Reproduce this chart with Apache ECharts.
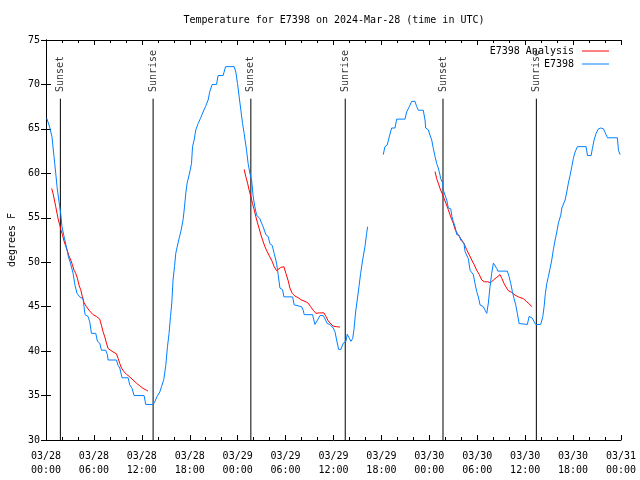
<!DOCTYPE html>
<html>
<head>
<meta charset="utf-8">
<script src="https://cdn.jsdelivr.net/npm/echarts@6/dist/echarts.min.js"></script>
<style>html,body{margin:0;padding:0;background:#fff}#c{width:640px;height:480px}</style>
</head>
<body>
<div id="c"></div>
<script>
// hours since 03/28 00:00 UTC
const blueHours = [0.09,0.46,0.75,1.0,1.22,1.38,1.63,1.84,2.0,2.26,2.56,2.81,3.06,3.38,3.63,3.88,4.22,4.64,4.76,4.89,5.26,5.48,5.69,6.23,6.44,6.73,6.94,7.48,7.69,7.77,8.82,9.02,9.24,9.52,10.28,10.49,10.78,11.03,12.28,12.49,13.41,13.62,13.91,14.25,14.46,14.75,15.0,15.21,15.41,15.59,15.75,15.91,16.09,16.25,16.42,16.67,16.92,17.17,17.34,17.51,17.67,17.92,18.22,18.35,18.55,18.76,19.05,19.35,19.67,19.97,20.3,20.51,20.8,21.35,21.55,22.18,22.48,23.56,23.77,23.98,24.19,24.4,24.61,24.81,25.11,25.31,25.53,25.74,25.94,26.15,26.37,26.57,26.78,26.99,27.19,27.53,27.82,28.03,28.32,28.57,28.87,29.07,29.29,29.62,29.79,30.88,31.08,32.0,32.21,32.33,33.38,33.67,34.01,34.3,34.71,35.01,35.21,35.55,35.76,35.96,36.18,36.39,36.64,36.93,37.22,37.56,37.72,37.97,38.18,38.4,38.56,38.77,38.97,39.19,39.4,39.65,39.94,40.15,40.28,41.2,42.23,42.44,42.73,42.98,43.28,43.7,43.91,44.95,45.16,45.49,45.79,46.2,46.42,46.62,47.24,47.46,47.54,47.87,48.08,48.3,48.5,48.71,48.92,49.12,49.34,49.42,49.67,49.75,50.0,50.18,50.38,50.68,50.84,51.0,51.22,51.43,51.75,51.93,52.18,52.34,52.47,52.68,52.88,53.1,53.31,53.51,53.72,53.93,54.14,54.35,54.56,54.76,54.98,55.19,55.39,55.6,55.81,56.02,56.23,56.44,56.57,57.77,57.98,58.2,58.4,58.61,58.82,59.02,59.24,60.28,60.49,60.7,60.9,61.12,61.33,61.95,62.21,62.37,62.53,62.71,62.91,63.12,63.33,63.53,63.75,63.96,64.16,64.46,64.59,64.79,65.0,65.21,65.41,65.63,65.84,66.04,66.25,66.54,67.63,67.8,68.26,68.42,68.63,68.88,69.17,69.47,69.8,70.01,70.3,71.55,71.68,71.89];
const blueTemps = [66.2,65.2,64.1,61.9,60.0,58.5,56.8,55.5,54.0,52.9,51.7,50.6,49.9,48.8,47.4,46.5,46.1,45.9,45.0,44.1,43.9,43.3,42.0,42.0,41.1,40.9,40.1,40.1,39.6,39.0,39.0,38.4,38.1,37.0,37.0,36.2,35.8,35.0,35.0,34.0,34.0,34.3,34.9,35.4,36.0,36.8,38.4,40.5,42.0,43.9,45.4,48.0,49.5,51.0,51.7,52.7,53.6,54.8,56.2,57.8,58.9,59.8,61.1,63.0,63.75,64.9,65.6,66.2,66.9,67.5,68.25,69.2,70.0,70.0,71.0,71.0,72.0,72.0,71.4,70.1,68.6,67.1,65.6,64.5,62.6,61.1,60.0,59.25,57.4,56.25,55.3,55.1,54.9,54.4,54.0,53.1,52.9,52.1,51.9,51.0,49.9,48.6,47.1,46.9,46.1,46.1,45.2,45.0,44.6,44.1,44.1,43.0,43.5,44.0,44.0,43.5,43.1,43.0,43.1,42.6,42.2,41.25,40.2,40.2,40.9,41.1,41.9,42.0,41.1,41.4,42.4,44.4,45.75,47.25,48.75,50.25,51.75,53.25,54.0,null,62.1,63.0,63.2,64.1,65.1,65.1,66.1,66.1,66.9,67.5,68.1,68.1,67.5,67.1,67.1,66.0,65.1,64.9,64.3,63.75,62.8,61.9,61.1,60.6,59.8,59.4,58.9,58.1,58.0,57.0,56.1,56.0,55.1,54.6,54.0,53.1,53.0,52.5,52.3,52.1,51.2,51.0,50.4,49.1,48.9,48.6,47.6,46.7,46.1,45.2,45.1,45.0,44.6,44.25,45.4,47.25,48.75,49.9,49.9,49.3,49.0,49.0,48.4,47.6,46.7,45.9,45.2,44.25,43.1,43.0,43.9,44.0,43.7,43.3,43.0,43.0,43.9,45.0,46.5,47.6,48.4,49.3,50.25,51.4,52.5,53.4,54.4,55.3,56.1,56.1,57.0,57.9,58.9,59.8,60.75,61.7,62.4,63.0,63.0,62.0,62.0,62.8,63.75,64.5,65.0,65.1,65.0,64.6,64.0,64.0,62.6,62.1];

const redHours = [0.71,0.88,1.05,1.22,1.38,1.55,1.72,1.88,2.06,2.22,2.43,2.63,2.88,3.1,3.31,3.51,3.72,3.93,4.14,4.35,4.56,4.76,5.06,5.39,5.48,5.89,6.32,6.73,6.94,7.14,7.36,7.57,7.77,7.98,8.4,8.82,9.02,9.24,9.45,9.74,10.08,10.49,10.9,11.33,11.74,12.16,12.58,12.78,
  18.0,
  24.81,25.03,25.24,25.44,25.65,25.86,26.07,26.28,26.49,26.69,26.9,27.12,27.41,27.69,28.03,28.32,28.57,28.87,29.07,29.37,29.79,30.04,30.33,30.54,30.83,31.17,31.58,32.0,32.54,32.83,33.13,33.46,33.8,34.21,34.8,35.05,35.34,35.68,35.96,36.39,36.8,
  42.0,
  48.71,48.92,49.12,49.34,49.59,49.84,50.09,50.38,50.68,51.0,51.22,51.5,51.75,52.05,52.34,52.68,53.01,53.31,53.63,53.93,54.26,54.56,54.89,55.31,55.69,56.02,56.44,56.85,57.07,57.36,57.61,57.89,58.32,58.73,59.15,59.77,60.2,60.53,60.83];
const redTemps = [58.3,57.75,57.0,56.25,55.5,54.75,54.2,53.6,53.1,52.5,51.9,51.4,50.7,50.25,49.7,49.1,48.75,48.2,47.4,46.9,46.1,45.45,45.0,44.6,44.4,44.1,43.9,43.6,42.9,42.2,41.6,40.9,40.3,40.1,39.9,39.7,39.2,38.6,38.1,37.7,37.4,37.1,36.75,36.4,36.1,35.8,35.6,35.5,
  null,
  60.45,59.6,58.9,58.1,57.4,56.6,55.9,55.1,54.4,53.8,53.1,52.5,51.75,51.2,50.6,50.1,49.5,49.05,49.2,49.4,49.5,48.75,47.9,47.1,46.5,46.2,46.0,45.75,45.55,45.4,45.0,44.6,44.25,44.3,44.3,43.9,43.4,43.05,42.8,42.75,42.7,
  null,
  60.2,59.4,58.9,58.3,57.75,57.2,56.6,55.9,55.1,54.4,53.7,53.25,52.9,52.5,52.1,51.4,50.8,50.25,49.7,49.1,48.6,48.0,47.8,47.8,47.7,48.0,48.3,48.6,48.2,47.6,47.2,46.8,46.6,46.3,46.1,45.9,45.55,45.3,45.0];

const sunsetHours = [1.80, 25.65, 49.71];
const sunriseHours = [13.41, 37.47, 61.40];
const yTicks = {min: 30, max: 75, step: 5};
const xTicks = {min: 0, max: 72, step: 6};
const titleText = 'Temperature for E7398 on 2024-Mar-28 (time in UTC)';
const blueName = 'E7398';
const redName = 'E7398 Analysis';

const FONT = 'DejaVu Sans Mono';
const zip = (a, b) => a.map((v, i) => [v, b[i] === null ? null : b[i]]);

const LINE_TOP = 68.4, LABEL_AT = 69.15;
const events = sunsetHours.map(h => ({h, name: 'Sunset'})).concat(sunriseHours.map(h => ({h, name: 'Sunrise'})));

const vlineSeries = events.map(ev => ({
  type: 'line', data: [[ev.h, yTicks.min], [ev.h, LINE_TOP]], symbol: 'none',
  lineStyle: {color: '#000', width: 1}, silent: true, z: 1
}));
const labelSeries = {
  type: 'scatter', symbolSize: 0, silent: true,
  data: events.map(ev => ({value: [ev.h, LABEL_AT], name: ev.name})),
  label: {show: true, formatter: p => p.name, rotate: 90, position: 'inside',
    align: 'left', verticalAlign: 'middle', color: '#000', fontFamily: FONT, fontSize: 10}
};

function xLabel(v) {
  const day = 28 + Math.floor(v / 24);
  const hh = v % 24;
  return '03/' + String(day).padStart(2, '0') + '\n' + String(hh).padStart(2, '0') + ':00';
}

const axisCommon = {
  axisLine: {show: true, lineStyle: {color: '#000', width: 1}},
  splitLine: {show: false}
};

const chart = echarts.init(document.getElementById('c'), null, {renderer: 'canvas'});
chart.setOption({
  animation: false,
  backgroundColor: '#fff',
  title: {text: titleText, left: 334, top: 15, textAlign: 'center', padding: 0,
    textStyle: {fontFamily: FONT, fontSize: 10, fontWeight: 'normal', color: '#000'}},
  legend: {
    data: [{name: redName, icon: 'rect', itemStyle: {color: '#ff0000'}},
           {name: blueName, icon: 'rect', itemStyle: {color: '#0080ff'}}],
    orient: 'vertical', right: 31, top: 45, align: 'right', padding: 0,
    itemWidth: 27, itemHeight: 1, itemGap: 1,
    textStyle: {fontFamily: FONT, fontSize: 10, color: '#000', padding: [0, 3, 0, 0], lineHeight: 12}
  },
  grid: {left: 46, right: 19, top: 40, bottom: 40, containLabel: false, outerBoundsMode: 'none'},
  xAxis: [
    Object.assign({type: 'value', position: 'bottom', min: xTicks.min, max: xTicks.max, interval: xTicks.step,
      axisTick: {show: true, inside: true, length: 5, lineStyle: {color: '#000'}},
      minorTick: {show: true, splitNumber: 3, length: 3, lineStyle: {color: '#000'}},
      axisLabel: {formatter: xLabel, fontFamily: FONT, fontSize: 10, color: '#000', margin: 9, lineHeight: 14}
    }, axisCommon),
    Object.assign({type: 'value', position: 'top', min: xTicks.min, max: xTicks.max, interval: xTicks.step,
      axisTick: {show: true, inside: true, length: 5, lineStyle: {color: '#000'}},
      minorTick: {show: true, splitNumber: 3, length: 3, lineStyle: {color: '#000'}},
      axisLabel: {show: false}
    }, axisCommon)
  ],
  yAxis: [
    Object.assign({type: 'value', position: 'left', min: yTicks.min, max: yTicks.max, interval: yTicks.step,
      name: 'degrees F', nameLocation: 'middle', nameGap: 29, nameRotate: 90,
      nameTextStyle: {fontFamily: FONT, fontSize: 10, color: '#000'},
      axisTick: {show: true, inside: true, length: 5, lineStyle: {color: '#000'}},
      axisLabel: {fontFamily: FONT, fontSize: 10, color: '#000', margin: 6}
    }, axisCommon),
    Object.assign({type: 'value', position: 'right', min: yTicks.min, max: yTicks.max, interval: yTicks.step,
      axisTick: {show: true, inside: true, length: 5, lineStyle: {color: '#000'}},
      axisLabel: {show: false}
    }, axisCommon)
  ],
  series: vlineSeries.concat([labelSeries,
    {name: redName, type: 'line', data: zip(redHours, redTemps), symbol: 'none', connectNulls: false,
      lineStyle: {color: '#ff0000', width: 1}, itemStyle: {color: '#ff0000'}, z: 3},
    {name: blueName, type: 'line', data: zip(blueHours, blueTemps), symbol: 'none', connectNulls: false,
      lineStyle: {color: '#0080ff', width: 1}, itemStyle: {color: '#0080ff'}, z: 4}
  ])
});
</script>
</body>
</html>
